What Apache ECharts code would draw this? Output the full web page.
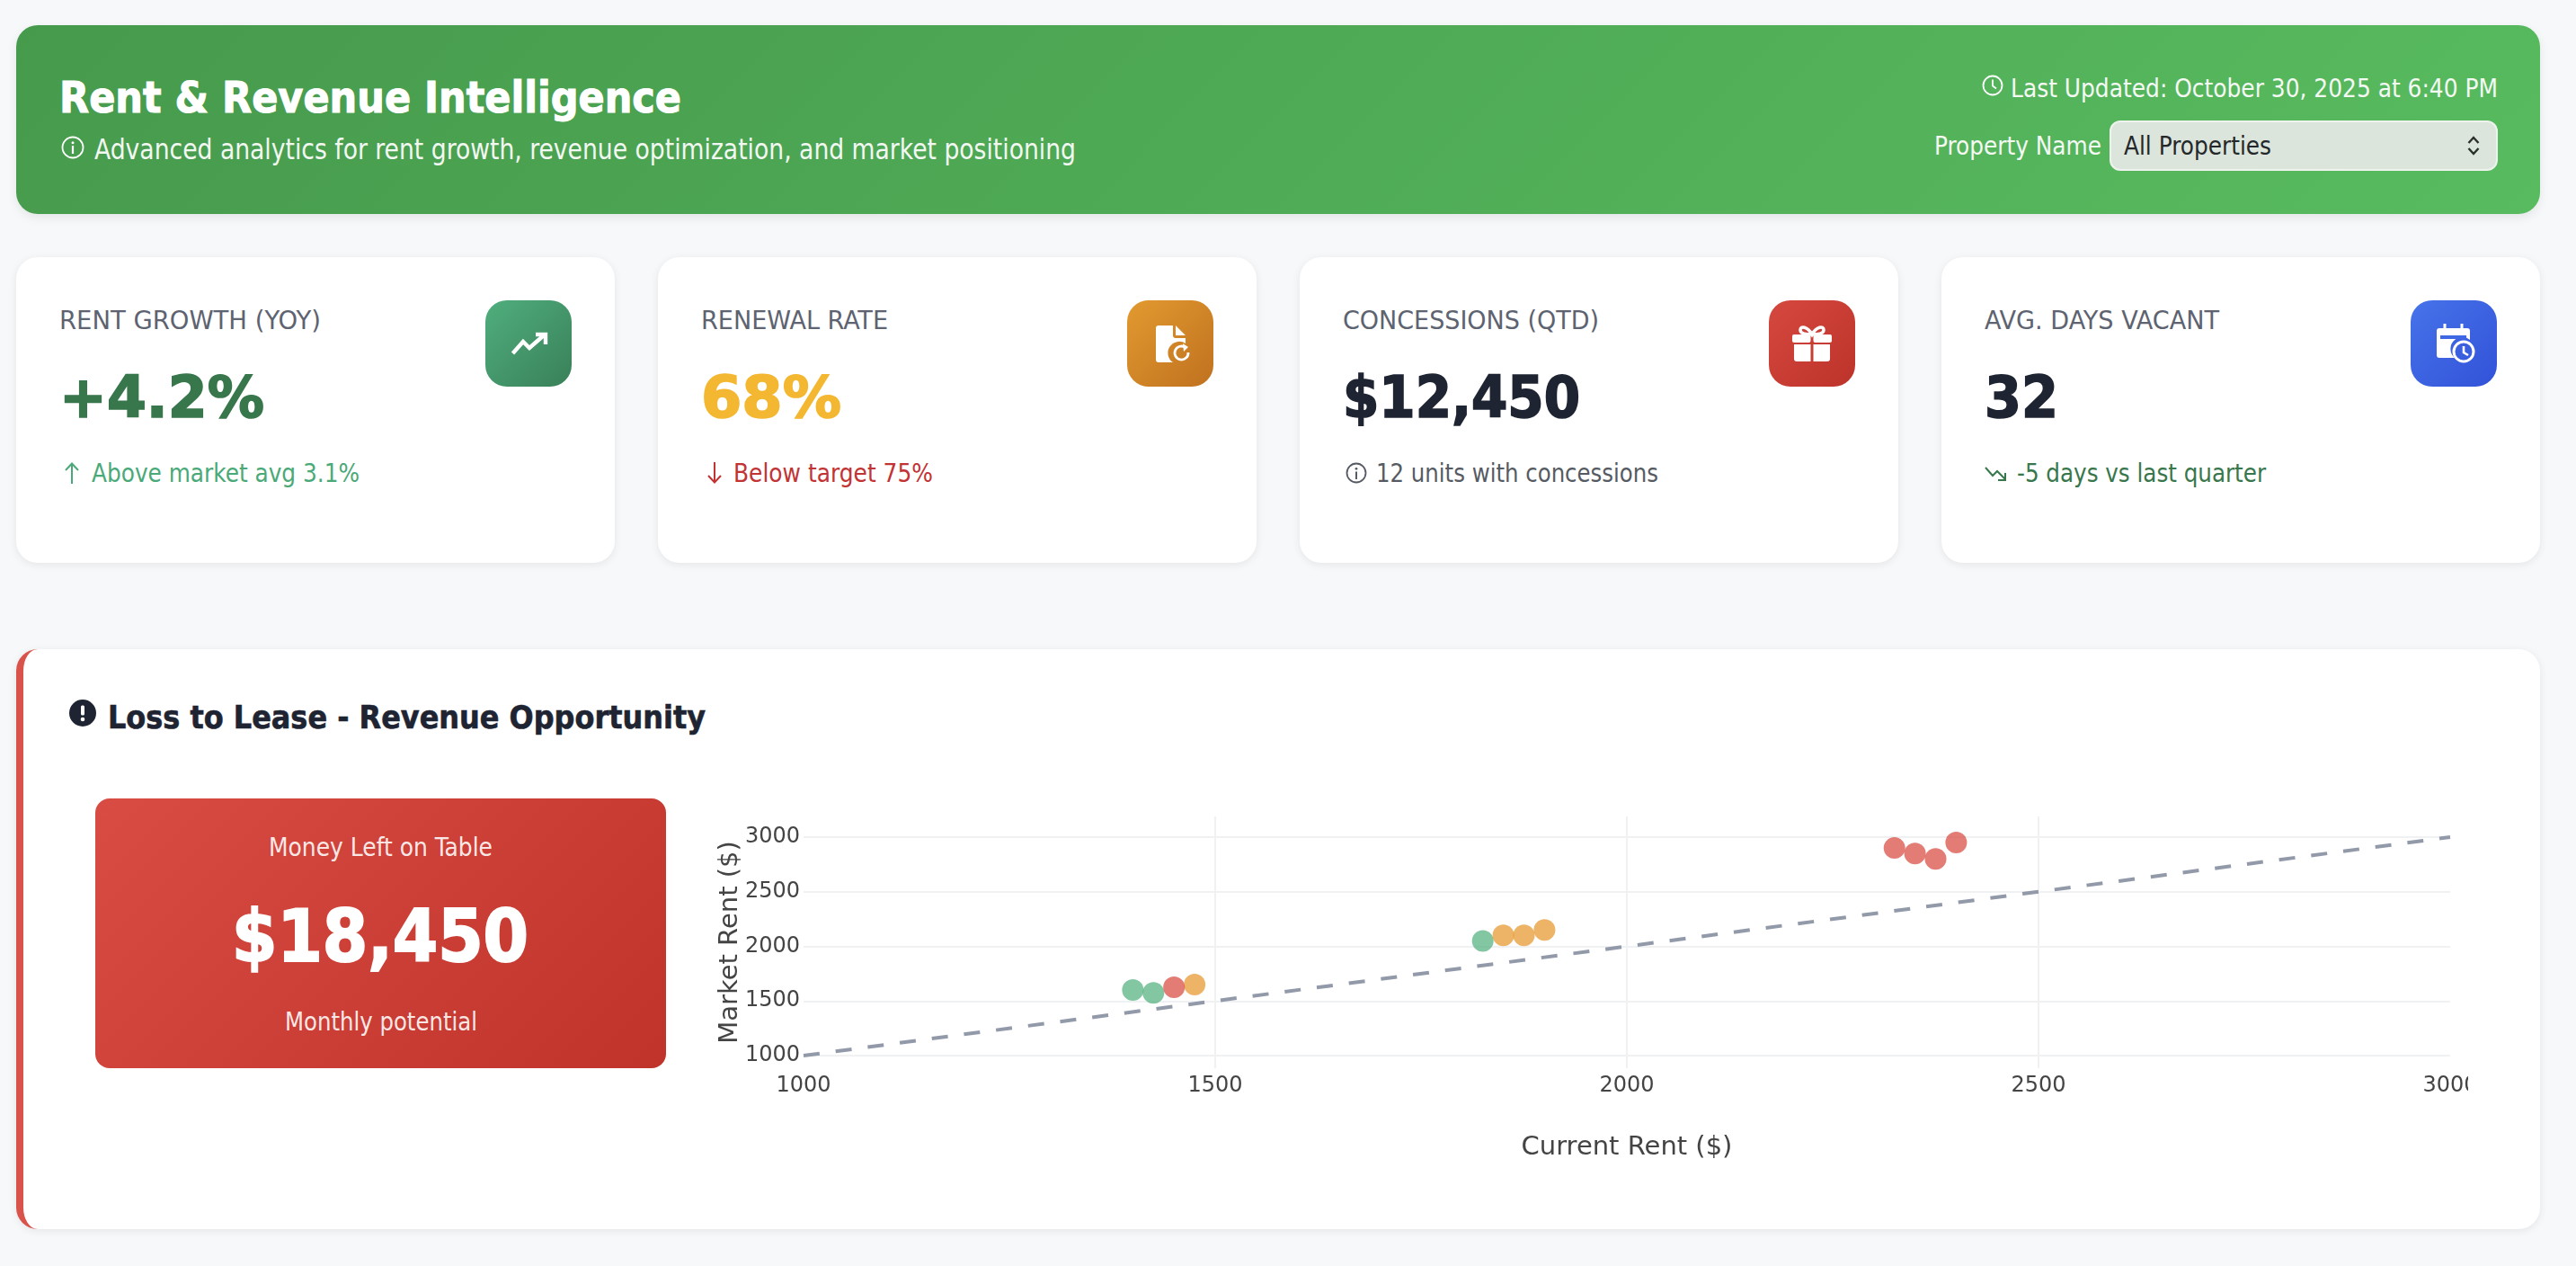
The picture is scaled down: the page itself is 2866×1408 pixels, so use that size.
<!DOCTYPE html>
<html>
<head>
<meta charset="utf-8">
<title>Rent & Revenue Intelligence</title>
<script src="https://cdn.jsdelivr.net/npm/echarts@6/dist/echarts.min.js"></script>
<style>
html,body{margin:0;padding:0;width:2866px;height:1408px;overflow:hidden;background:#f7f8fa;}
#page{position:relative;width:2866px;height:1408px;font-family:'DejaVu Sans Condensed','DejaVu Sans',sans-serif;}
.box{position:absolute;box-sizing:border-box;}
.t{position:absolute;white-space:pre;transform-origin:0 0;line-height:1.2;}
svg{position:absolute;overflow:visible;}
#chart{position:absolute;left:770px;top:880px;width:1976px;height:440px;overflow:hidden;}
</style>
</head>
<body>
<div id="page">
  <div class="box" style="left:18px;top:28px;width:2808px;height:210px;border-radius:24px;background:linear-gradient(135deg,#469a4c,#58bb5f);box-shadow:0 4px 12px rgba(0,0,0,.08)"></div>
  <div class="box" style="left:2347px;top:134px;width:432px;height:56px;border-radius:12px;background:#dbe5dc;border:2px solid #eef3ee"></div>

  <div class="box" style="left:18px;top:286px;width:666px;height:340px;border-radius:24px;background:#fff;box-shadow:0 2px 10px rgba(0,0,0,.08)"></div>
  <div class="box" style="left:732px;top:286px;width:666px;height:340px;border-radius:24px;background:#fff;box-shadow:0 2px 10px rgba(0,0,0,.08)"></div>
  <div class="box" style="left:1446px;top:286px;width:666px;height:340px;border-radius:24px;background:#fff;box-shadow:0 2px 10px rgba(0,0,0,.08)"></div>
  <div class="box" style="left:2160px;top:286px;width:666px;height:340px;border-radius:24px;background:#fff;box-shadow:0 2px 10px rgba(0,0,0,.08)"></div>

  <div class="box" style="left:540px;top:334px;width:96px;height:96px;border-radius:24px;background:linear-gradient(135deg,#50ae7d,#398059)"></div>
  <div class="box" style="left:1254px;top:334px;width:96px;height:96px;border-radius:24px;background:linear-gradient(135deg,#e29a30,#c0711f)"></div>
  <div class="box" style="left:1968px;top:334px;width:96px;height:96px;border-radius:24px;background:linear-gradient(135deg,#d5483f,#bd3329)"></div>
  <div class="box" style="left:2682px;top:334px;width:96px;height:96px;border-radius:24px;background:linear-gradient(135deg,#4673ea,#3252d8)"></div>

  <div class="box" style="left:18px;top:722px;width:2808px;height:645px;border-radius:24px;background:#fff;border-left:8px solid #d9534a;box-shadow:0 2px 10px rgba(0,0,0,.08)"></div>
  <div class="box" style="left:106px;top:888px;width:635px;height:300px;border-radius:16px;background:linear-gradient(135deg,#d94c43,#bf332a)"></div>

  <!-- header icons -->
  <svg style="left:68px;top:151px" width="26" height="26" viewBox="0 0 26 26"><circle cx="13" cy="13" r="11.5" fill="none" stroke="#fff" stroke-width="1.8"/><circle cx="13" cy="7.8" r="1.5" fill="#fff"/><rect x="11.9" y="11" width="2.2" height="9" fill="#fff"/></svg>
  <svg style="left:2205px;top:83px" width="24" height="24" viewBox="0 0 24 24"><circle cx="12" cy="12" r="10.5" fill="none" stroke="#fff" stroke-width="1.8"/><path d="M12 5.5V12.5L16 15.5" fill="none" stroke="#fff" stroke-width="1.8"/></svg>
  <svg style="left:2744px;top:150px" width="16" height="24" viewBox="0 0 16 24"><path d="M2.5 9L8 3L13.5 9M2.5 15L8 21L13.5 15" fill="none" stroke="#2b2f2b" stroke-width="2.4"/></svg>

  <!-- card icons -->
  <svg style="left:569px;top:370px" width="40" height="24" viewBox="0 0 40 24"><path d="M1.5 23L13 10L20 17L36 3" fill="none" stroke="#fff" stroke-width="4.4"/><path d="M27 2H38V13" fill="none" stroke="#fff" stroke-width="4.4"/></svg>
  <svg style="left:1286px;top:362px" width="38" height="42" viewBox="0 0 38 42"><path d="M3 0H19V11Q19 14 22 14H33V20A11 11 0 0 0 19 41H3Q0 41 0 38V3Q0 0 3 0Z M22 0L33 11H22Z" fill="#fff"/><path d="M36 30A7.5 7.5 0 1 1 33 24.5" fill="none" stroke="#fff" stroke-width="2.8"/><path d="M30 20L36 24L31 29Z" fill="#fff"/></svg>
  <svg style="left:1994px;top:362px" width="44" height="40" viewBox="0 0 44 40"><path d="M22 10C17 1 9 0 9 5C9 8 13 10 22 10C31 10 35 8 35 5C35 0 27 1 22 10Z" fill="none" stroke="#fff" stroke-width="3.6"/><rect x="0" y="10" width="20.5" height="9" rx="2" fill="#fff"/><rect x="23.5" y="10" width="20.5" height="9" rx="2" fill="#fff"/><path d="M2 21H20.5V40H5Q2 40 2 37Z M23.5 21H42V37Q42 40 39 40H23.5Z" fill="#fff"/></svg>
  <svg style="left:2711px;top:360px" width="42" height="44" viewBox="0 0 42 44"><path d="M9 0V6M28 0V6" stroke="#fff" stroke-width="3"/><path d="M3 5H34Q37 5 37 8V18A13 13 0 0 0 20 38H3Q0 38 0 35V8Q0 5 3 5Z" fill="#fff"/><rect x="4" y="13" width="29" height="4" fill="#3f68e4"/><circle cx="30" cy="31" r="11" fill="none" stroke="#fff" stroke-width="3"/><path d="M30 25V32L35 35" fill="none" stroke="#fff" stroke-width="2.6"/></svg>

  <!-- card footnote icons -->
  <svg style="left:71px;top:513px" width="18" height="26" viewBox="0 0 18 26"><path d="M9 25V3M2 10L9 2.5L16 10" fill="none" stroke="#4aa978" stroke-width="2"/></svg>
  <svg style="left:786px;top:513px" width="18" height="26" viewBox="0 0 18 26"><path d="M9 1V23M2 16L9 23.5L16 16" fill="none" stroke="#c23334" stroke-width="2"/></svg>
  <svg style="left:1497px;top:514px" width="24" height="24" viewBox="0 0 24 24"><circle cx="12" cy="12" r="10.5" fill="none" stroke="#565b63" stroke-width="1.8"/><circle cx="12" cy="7.3" r="1.4" fill="#565b63"/><rect x="11" y="10.5" width="2" height="8.5" fill="#565b63"/></svg>
  <svg style="left:2208px;top:518px" width="27" height="18" viewBox="0 0 27 18"><path d="M1 2L9 11L14 6L23 15" fill="none" stroke="#38774c" stroke-width="2"/><path d="M23 8V16H15" fill="none" stroke="#38774c" stroke-width="2"/></svg>

  <!-- panel title icon -->
  <svg style="left:77px;top:778px" width="30" height="30" viewBox="0 0 30 30"><circle cx="15" cy="15" r="15" fill="#1e2432"/><rect x="13" y="6.5" width="4" height="11" rx="1.5" fill="#fff"/><circle cx="15" cy="22" r="2.3" fill="#fff"/></svg>

  <div id="chart"></div>
</div>
<script>
// Chart data: current rent and market rent, grouped by marker colour
const greenCurrent  = [1400, 1425, 1825];
const greenMarket   = [1600, 1575, 2050];
const orangeCurrent = [1475, 1850, 1875, 1900];
const orangeMarket  = [1650, 2100, 2100, 2150];
const redCurrent    = [1450, 2325, 2350, 2375, 2400];
const redMarket     = [1625, 2900, 2850, 2800, 2950];
const parityLine    = [1000, 3000];
const xLabels = [1000, 1500, 2000, 2500, 3000];
const xGridlines = [1500, 2000, 2500];
const yTicks = [1000, 1500, 2000, 2500, 3000];
const xRange = [1000, 3000];
const yRange = [885, 3189];

// Dashboard text
const pageTitle = 'Rent & Revenue Intelligence';
const pageSubtitle = 'Advanced analytics for rent growth, revenue optimization, and market positioning';
const lastUpdated = 'Last Updated: October 30, 2025 at 6:40 PM';
const filterLabel = 'Property Name';
const filterValue = 'All Properties';
const kpiLabels = ['RENT GROWTH (YOY)', 'RENEWAL RATE', 'CONCESSIONS (QTD)', 'AVG. DAYS VACANT'];
const kpiValues = ['+4.2%', '68%', '$12,450', '32'];
const kpiNotes  = ['Above market avg 3.1%', 'Below target 75%', '12 units with concessions', '-5 days vs last quarter'];
const panelTitle = 'Loss to Lease - Revenue Opportunity';
const moneyTop = 'Money Left on Table';
const moneyValue = '$18,450';
const moneyBottom = 'Monthly potential';

const page = document.getElementById('page');
function T(text, x0, x1, base, size, weight, color, stroke) {
  const s = document.createElement('span');
  s.className = 't';
  s.textContent = text;
  s.style.cssText = `left:${x0}px;top:0;font-size:${size}px;font-weight:${weight};color:${color}` +
    (stroke ? `;-webkit-text-stroke:${stroke}px ${color}` : '');
  const probe = document.createElement('i');
  probe.style.cssText = 'display:inline-block;width:0;height:0';
  s.appendChild(probe);
  page.appendChild(s);
  const b = probe.getBoundingClientRect().bottom;
  s.style.top = (base - b) + 'px';
  const w = s.getBoundingClientRect().width;
  s.style.transform = `scaleX(${(x1 - x0) / w})`;
}
const dark = '#1e2432', grey = '#5d6370';
T(pageTitle, 66, 758, 125, 48, 700, '#fff', 1);
T(pageSubtitle, 105, 1197, 177, 32, 400, '#f2f7f2');
T(lastUpdated, 2237, 2779, 108, 28, 400, '#f4f9f4');
T(filterLabel, 2152, 2338, 172, 28, 400, '#f4f9f4');
T(filterValue, 2363, 2527, 172, 28, 400, '#24282a');

T(kpiLabels[0], 66, 357, 366, 28, 400, grey);
T(kpiLabels[1], 780, 988, 366, 28, 400, grey);
T(kpiLabels[2], 1494, 1779, 366, 28, 400, grey);
T(kpiLabels[3], 2208, 2469, 366, 28, 400, grey);
T(kpiValues[0], 66, 294, 464, 64, 700, '#38774c', 1.6);
T(kpiValues[1], 780, 936, 464, 64, 700, '#f4b731', 1.6);
T(kpiValues[2], 1494, 1758, 464, 64, 700, dark, 1.6);
T(kpiValues[3], 2208, 2290, 464, 64, 700, dark, 1.6);
T(kpiNotes[0], 102, 400, 536, 28, 400, '#4aa978');
T(kpiNotes[1], 816, 1038, 536, 28, 400, '#c23334');
T(kpiNotes[2], 1531, 1845, 536, 28, 400, '#565b63');
T(kpiNotes[3], 2244, 2521, 536, 28, 400, '#38774c');

T(panelTitle, 120, 785, 810, 36, 700, dark, 0.6);
T(moneyTop, 299, 548, 952, 28, 400, 'rgba(255,255,255,.9)');
T(moneyValue, 258, 588, 1069, 80, 700, '#fff', 2);
T(moneyBottom, 317, 531, 1146, 28, 400, 'rgba(255,255,255,.9)');

const zip = (a, b) => a.map((v, i) => [v, b[i]]);
const axisFont = {fontFamily: "'DejaVu Sans',sans-serif", color: '#444', fontSize: 24};
const nameFont = {fontFamily: "'DejaVu Sans',sans-serif", color: '#444', fontSize: 29};
const gridLine = {show: true, lineStyle: {color: '#f0f1f3', width: 2}};
const plain = v => String(v);
const scatter = (cx, my, c) => ({
  type: 'scatter', data: zip(cx, my), symbolSize: 24, silent: true, z: 3,
  itemStyle: {color: c, opacity: 0.7}
});
const chart = echarts.init(document.getElementById('chart'), null, {renderer: 'canvas'});
chart.setOption({
  animation: false,
  backgroundColor: 'transparent',
  grid: {left: 124, right: 20, top: 28, bottom: 132, outerBoundsMode: 'none'},
  xAxis: {
    type: 'value', min: xRange[0], max: xRange[1],
    name: 'Current Rent ($)', nameLocation: 'middle', nameGap: 74, nameTextStyle: nameFont,
    nameMoveOverlap: false,
    axisLine: {show: false},
    axisTick: {show: false, customValues: xGridlines},
    axisLabel: {...axisFont, margin: 8, formatter: plain, customValues: xLabels},
    splitLine: gridLine
  },
  yAxis: {
    type: 'value', min: yRange[0], max: yRange[1],
    name: 'Market Rent ($)', nameLocation: 'middle', nameGap: 67, nameTextStyle: nameFont,
    nameMoveOverlap: false,
    axisLine: {show: false},
    axisTick: {show: false, customValues: yTicks},
    axisLabel: {...axisFont, margin: 4, formatter: plain, customValues: yTicks},
    splitLine: gridLine
  },
  series: [
    {type: 'line', data: zip(parityLine, parityLine), symbol: 'none', silent: true, z: 2,
     lineStyle: {color: '#9299a9', width: 4, type: [18, 18]}},
    scatter(greenCurrent, greenMarket, '#4eae7a'),
    scatter(orangeCurrent, orangeMarket, '#e59427'),
    scatter(redCurrent, redMarket, '#d5453b')
  ]
});
</script>
</body>
</html>
